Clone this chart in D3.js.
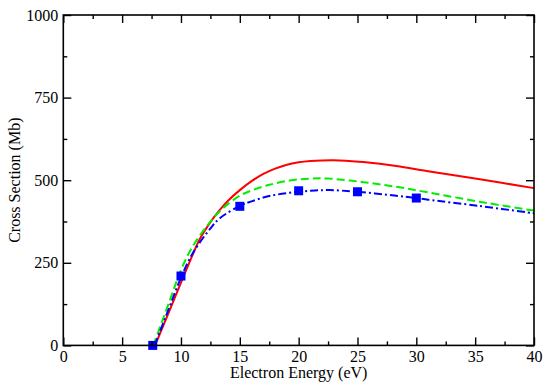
<!DOCTYPE html>
<html>
<head>
<meta charset="utf-8">
<script src="https://cdn.jsdelivr.net/npm/d3@7"></script>
<style>
    body { margin: 0; background: #fff; }
    text { font-family: "Liberation Serif", "Times New Roman", serif; }
</style>
</head>
<body>
<div class="chart"></div>
<script>
// values
const redCurve = [
    [7.8, 0], [9, 103], [10, 190], [11, 275], [11.6, 322], [12.4, 368], [13.3, 410],
    [14, 438], [15, 470], [16, 497], [17, 519], [18, 535], [19, 547], [20, 554],
    [21, 558], [22, 560], [23, 560.5], [24, 559], [25.5, 555], [28.3, 543], [31, 527],
    [35, 505], [40, 476]
];
const greenCurve = [
    [7.65, 0], [9, 131], [10, 228], [11, 300], [12.4, 370], [13.5, 413], [15, 453],
    [16, 469], [17.5, 486], [19.25, 499], [21, 505], [22.5, 505], [25.5, 494],
    [28.3, 480], [31, 463], [35.35, 435], [40, 408]
];
const blueCurve = [
    [7.75, 0], [9, 114], [10, 205], [11, 279], [12.5, 354], [13.3, 385], [15, 422],
    [16, 436], [17.5, 452], [19.25, 462], [21, 468], [22.6, 470], [25, 465],
    [28.3, 453], [30, 446], [31, 441], [35.35, 422], [40, 400]
];
const bluePoints = [[7.6, 0], [10, 210], [15, 421], [20, 468], [25, 465], [30, 446]];

const xMajorTicks = [0, 5, 10, 15, 20, 25, 30, 35, 40];
const xMinorTicks = [2.5, 7.5, 12.5, 17.5, 22.5, 27.5, 32.5, 37.5];
const yMajorTicks = [0, 250, 500, 750, 1000];
const yMinorTicks = [125, 375, 625, 875];

const xTitle = "Electron Energy (eV)";
const yTitle = "Cross Section (Mb)";

class Chart {

    static width = 550;
    static height = 385;
    static left = 63.3;
    static right = 534;
    static top = 15;
    static bottom = 345.4;
    static font = "'Liberation Serif', 'Times New Roman', serif";

    svg;
    x;
    y;

    constructor() {
        this.svg = d3.select(".chart")
            .append("svg")
            .attr("width", Chart.width)
            .attr("height", Chart.height);
        this.x = d3.scaleLinear().domain([0, 40]).range([Chart.left, Chart.right]);
        this.y = d3.scaleLinear().domain([0, 1000]).range([Chart.bottom, Chart.top]);
    }

    drawAxes() {
        const svg = this.svg;
        const fmt = d3.format("d");
        const styleAxis = (g) => {
            g.attr("font-family", Chart.font).attr("font-size", 16);
            g.select(".domain").remove();
            g.selectAll(".tick line").attr("stroke", "#000").attr("stroke-width", 1.4);
            g.selectAll(".tick text").attr("fill", "#000");
        };

        // bottom, with labels
        svg.append("g")
            .attr("transform", `translate(0,${Chart.bottom})`)
            .call(d3.axisBottom(this.x).tickValues(xMajorTicks).tickFormat(fmt)
                .tickSizeInner(-8).tickSizeOuter(0).tickPadding(5))
            .call(styleAxis);
        svg.append("g")
            .attr("transform", `translate(0,${Chart.bottom})`)
            .call(d3.axisBottom(this.x).tickValues(xMinorTicks).tickSizeInner(-4).tickSizeOuter(0).tickFormat(""))
            .call(styleAxis);
        // top, ticks only
        svg.append("g")
            .attr("transform", `translate(0,${Chart.top})`)
            .call(d3.axisTop(this.x).tickValues(xMajorTicks).tickSizeInner(-8).tickSizeOuter(0).tickFormat(""))
            .call(styleAxis);
        svg.append("g")
            .attr("transform", `translate(0,${Chart.top})`)
            .call(d3.axisTop(this.x).tickValues(xMinorTicks).tickSizeInner(-4).tickSizeOuter(0).tickFormat(""))
            .call(styleAxis);

        // left, with labels
        svg.append("g")
            .attr("transform", `translate(${Chart.left},0)`)
            .call(d3.axisLeft(this.y).tickValues(yMajorTicks).tickFormat(fmt)
                .tickSizeInner(-8).tickSizeOuter(0).tickPadding(5))
            .call(styleAxis);
        svg.append("g")
            .attr("transform", `translate(${Chart.left},0)`)
            .call(d3.axisLeft(this.y).tickValues(yMinorTicks).tickSizeInner(-4).tickSizeOuter(0).tickFormat(""))
            .call(styleAxis);
        // right, ticks only
        svg.append("g")
            .attr("transform", `translate(${Chart.right},0)`)
            .call(d3.axisRight(this.y).tickValues(yMajorTicks).tickSizeInner(-8).tickSizeOuter(0).tickFormat(""))
            .call(styleAxis);
        svg.append("g")
            .attr("transform", `translate(${Chart.right},0)`)
            .call(d3.axisRight(this.y).tickValues(yMinorTicks).tickSizeInner(-4).tickSizeOuter(0).tickFormat(""))
            .call(styleAxis);

        svg.append("rect")
            .attr("x", Chart.left)
            .attr("y", Chart.top)
            .attr("width", Chart.right - Chart.left)
            .attr("height", Chart.bottom - Chart.top)
            .attr("fill", "none")
            .attr("stroke", "#000")
            .attr("stroke-width", 1.6);

        svg.append("text")
            .attr("x", this.x(20))
            .attr("y", 378)
            .attr("text-anchor", "middle")
            .attr("font-family", Chart.font)
            .attr("font-size", 16)
            .text(xTitle);

        svg.append("text")
            .attr("transform", `translate(20,${(Chart.top + Chart.bottom) / 2}) rotate(-90)`)
            .attr("text-anchor", "middle")
            .attr("font-family", Chart.font)
            .attr("font-size", 16)
            .text(yTitle);
    }

    drawCurve(data, color, dash) {
        const line = d3.line()
            .x(d => this.x(d[0]))
            .y(d => this.y(d[1]))
            .curve(d3.curveCatmullRom.alpha(0.5));
        this.svg.append("path")
            .datum(data)
            .attr("d", line)
            .attr("fill", "none")
            .attr("stroke", color)
            .attr("stroke-width", 2)
            .attr("stroke-dasharray", dash);
    }

    drawPoints(data, color) {
        const size = 9;
        this.svg.append("g")
            .selectAll("rect")
            .data(data)
            .join("rect")
            .attr("x", d => this.x(d[0]) - size / 2)
            .attr("y", d => this.y(d[1]) - size / 2)
            .attr("width", size)
            .attr("height", size)
            .attr("fill", color);
    }

    static launch() {
        const chart = new Chart();
        chart.drawCurve(redCurve, "#ff0000", null);
        chart.drawCurve(greenCurve, "#00ee00", "8,4");
        chart.drawCurve(blueCurve, "#0000ff", "8,3,2,3");
        chart.drawPoints(bluePoints, "#0000ff");
        chart.drawAxes();
    }
}

Chart.launch();
</script>
</body>
</html>
